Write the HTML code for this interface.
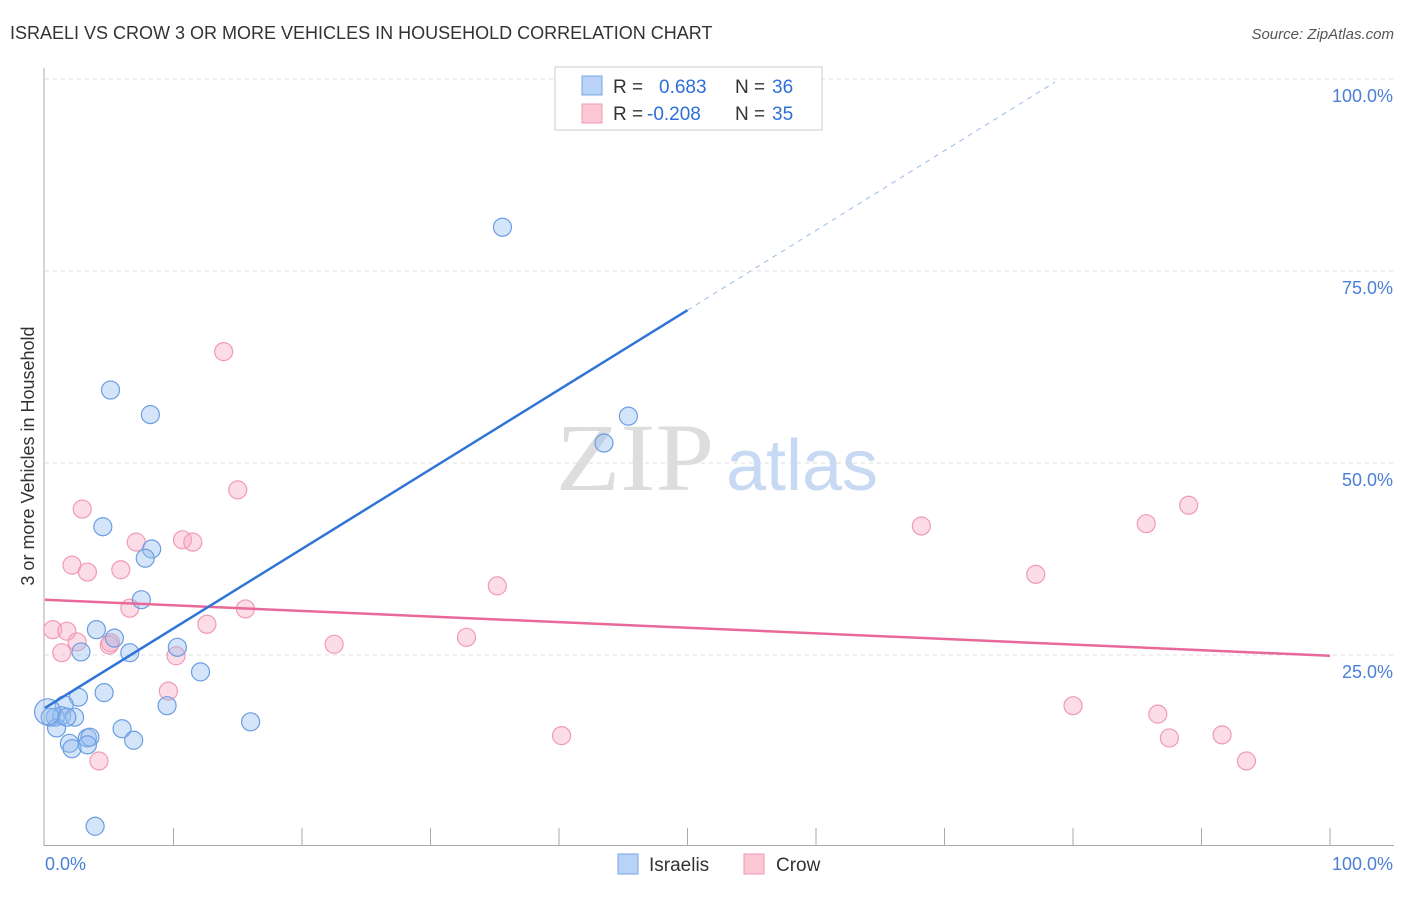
<!DOCTYPE html>
<html><head><meta charset="utf-8"><style>
body{margin:0;background:#fff;font-family:"Liberation Sans",sans-serif}
svg text{font-family:"Liberation Sans",sans-serif}
</style></head><body>
<svg width="1406" height="892" xmlns="http://www.w3.org/2000/svg">
<text x="10" y="39" font-size="18" fill="#333">ISRAELI VS CROW 3 OR MORE VEHICLES IN HOUSEHOLD CORRELATION CHART</text>
<text x="1394" y="39" font-size="15" fill="#555" text-anchor="end" font-style="italic">Source: ZipAtlas.com</text>
<g id="grid"></g>
<g id="axes"></g>
<text x="635" y="490" font-size="96" fill="#ddd" text-anchor="middle" transform="translate(635,0) scale(1.1,1) translate(-635,0)" style="font-family:'Liberation Serif',serif">ZIP</text>
<text x="802" y="490" font-size="72" fill="#c8daf3" text-anchor="middle">atlas</text>
<g id="pts"></g>
<g id="lines"></g>
<g>
<rect x="555" y="67" width="267" height="63" fill="#fff" stroke="#ccc"/>
<rect x="582" y="76" width="20" height="19" fill="#b8d3f5" stroke="#7aa6e6"/>
<rect x="582" y="104" width="20" height="19" fill="#fcc8d6" stroke="#f09ab2"/>
<text x="613" y="93" font-size="19" fill="#333">R = </text><text x="659" y="93" font-size="19" fill="#2d6fd6">0.683</text>
<text x="735" y="93" font-size="19" fill="#333">N = </text><text x="772" y="93" font-size="19" fill="#2d6fd6">36</text>
<text x="613" y="120" font-size="19" fill="#333">R = </text><text x="647" y="120" font-size="19" fill="#2d6fd6">-0.208</text>
<text x="735" y="120" font-size="19" fill="#333">N = </text><text x="772" y="120" font-size="19" fill="#2d6fd6">35</text>
</g>
<g>
<rect x="618" y="854" width="20" height="20" fill="#b8d3f5" stroke="#7aa6e6"/>
<text x="649" y="871" font-size="19" fill="#333">Israelis</text>
<rect x="744" y="854" width="20" height="20" fill="#fcc8d6" stroke="#f09ab2"/>
<text x="776" y="871" font-size="19" fill="#333">Crow</text>
</g>
<text transform="translate(34,456) rotate(-90)" font-size="18" fill="#333" text-anchor="middle">3 or more Vehicles in Household</text>
</svg>
<script>
const israeliX=[35.6,5.1,8.2,45.4,43.5,4.5,8.3,7.8,7.5,4.0,5.4,2.8,6.6,10.3,12.1,4.6,2.6,1.5,9.5,16.0,0.8,1.3,2.3,0.4,0.9,6.0,3.3,3.5,1.9,2.1,3.3,6.9,3.9,0.2,1.7];
const israeliY=[80.7,59.5,56.3,56.1,52.6,41.7,38.8,37.6,32.2,28.3,27.2,25.4,25.3,26.0,22.8,20.1,19.5,18.5,18.4,16.3,16.9,17.1,16.9,16.9,15.5,15.4,14.2,14.3,13.5,12.8,13.3,13.9,2.7,17.6,16.9];
const crowX=[13.9,15.0,2.9,68.2,85.7,89.0,7.1,10.7,11.5,2.1,3.3,5.9,77.1,35.2,6.6,15.6,12.6,0.6,1.7,32.8,2.5,5.1,5.0,22.5,1.3,10.2,9.6,80.0,86.6,40.2,87.5,91.6,4.2,93.5];
const crowY=[64.5,46.5,44.0,41.8,42.1,44.5,39.7,40.0,39.7,36.7,35.8,36.1,35.5,34.0,31.1,31.0,29.0,28.3,28.1,27.3,26.7,26.6,26.3,26.4,25.3,24.9,20.3,18.4,17.3,14.5,14.2,14.6,11.2,11.2];
const yTicks=[25,50,75,100];
const yTickLabels=["25.0%","50.0%","75.0%","100.0%"];
const blueLine=[[0,18.1],[50,69.9]];
const blueDash=[[50,69.9],[78.6,99.6]];
const pinkLine=[[0,32.2],[100,24.9]];
const NS="http://www.w3.org/2000/svg";
const sx=v=>45+v*12.85, sy=v=>847-v*7.68;
function mk(t,a,p){const e=document.createElementNS(NS,t);for(const k in a)e.setAttribute(k,a[k]);p.appendChild(e);return e;}
const grid=document.getElementById('grid'),axes=document.getElementById('axes');
yTicks.forEach((t,i)=>{
 const l=mk('line',{x1:45,x2:1394,y1:sy(t),y2:sy(t),stroke:'#ddd','stroke-dasharray':'4,4'},grid);
 
 
 const tx=mk('text',{x:1393,y:sy(t)+23,'font-size':18,fill:'#4a7fd8','text-anchor':'end'},axes);
 tx.textContent=yTickLabels[i];
 
 
});
mk('line',{x1:44,x2:44,y1:68,y2:846,stroke:'#aaa'},axes);
mk('line',{x1:44,x2:1394,y1:845.5,y2:845.5,stroke:'#aaa'},axes);
for(let i=1;i<=10;i++){const t=mk('line',{x1:sx(i*10),x2:sx(i*10),y1:828,y2:845,stroke:'#aaa'},axes);
 
 }
const x0=mk('text',{x:45,y:870,'font-size':18,fill:'#4a7fd8'},axes);x0.textContent='0.0%';


const x1=mk('text',{x:1393,y:870,'font-size':18,fill:'#4a7fd8','text-anchor':'end'},axes);x1.textContent='100.0%';


const pts=document.getElementById('pts');
crowX.forEach((x,i)=>{const c=mk('circle',{cx:sx(x),cy:sy(crowY[i]),r:9,fill:'rgba(248,170,195,0.4)',stroke:'#f09ab2','stroke-width':1.2},pts);
 
 });
israeliX.forEach((x,i)=>{const c=mk('circle',{cx:sx(x),cy:sy(israeliY[i]),r:i==33?13:9,fill:'rgba(150,190,240,0.4)',stroke:'#6a9de2','stroke-width':1.2},pts);
 
 });
const lines=document.getElementById('lines');
function ln(p,st,w,d,n){const l=mk('line',{x1:sx(p[0][0]),y1:sy(p[0][1]),x2:sx(p[1][0]),y2:sy(p[1][1]),stroke:st,'stroke-width':w},lines);if(d)l.setAttribute('stroke-dasharray',d);
 
 }
ln(pinkLine,'#e8689a',2.5,null,'crow-trend-line');
ln(blueLine,'#2f74d6',2.5,null,'israeli-trend-line');
ln(blueDash,'#9bbbe8',1,'5,5','israeli-trend-extension');
</script>
</body></html>
